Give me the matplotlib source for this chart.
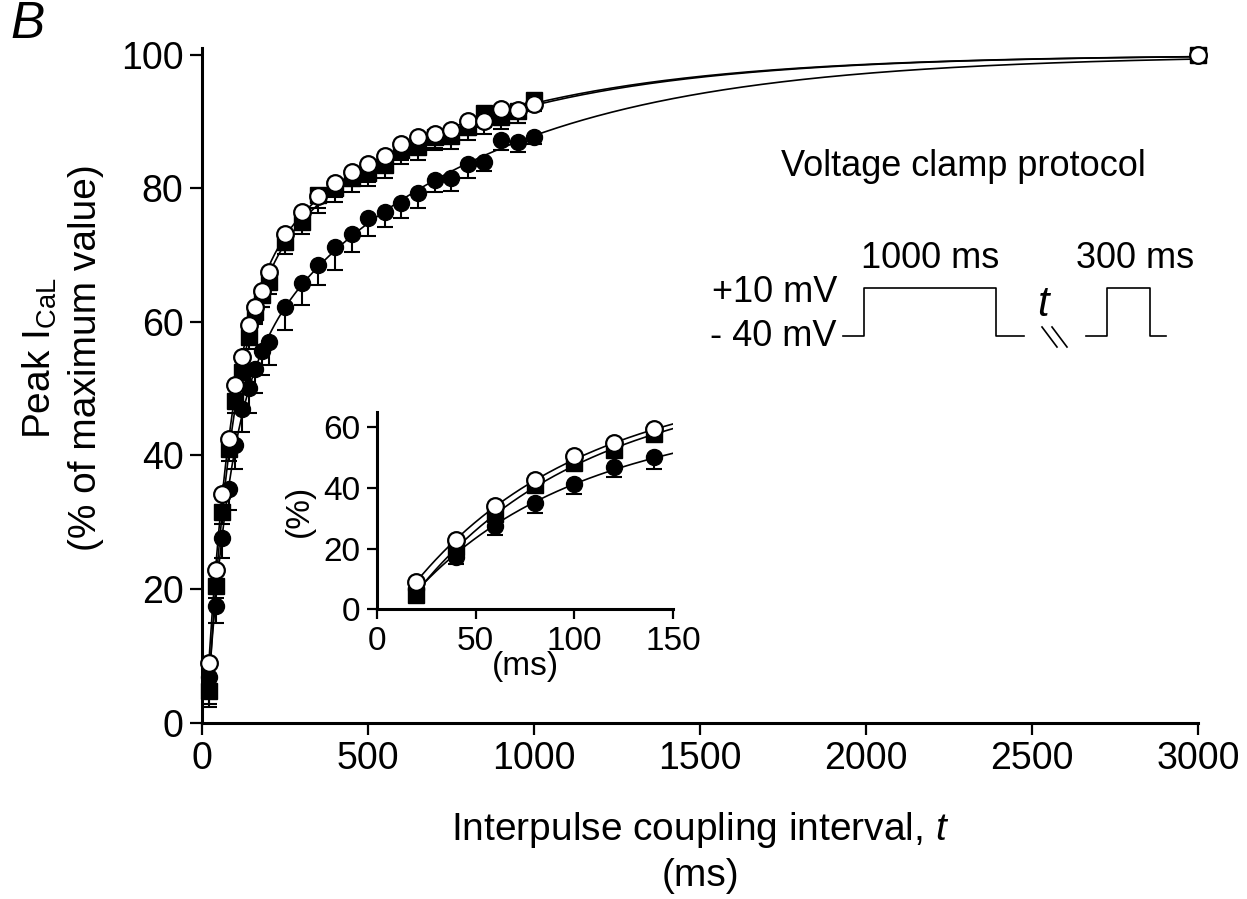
import numpy as np
import matplotlib
matplotlib.use("Agg")
import matplotlib.pyplot as plt

plt.rcParams['font.family'] = ['Liberation Sans', 'DejaVu Sans']
plt.rcParams['mathtext.fontset'] = 'custom'
plt.rcParams['mathtext.rm'] = 'Liberation Sans'
plt.rcParams['mathtext.it'] = 'Liberation Sans:italic'

# coupling intervals (ms)
t_ms = [20, 40, 60, 80, 100, 120, 140, 160, 180, 200, 250, 300, 350, 400, 450,
        500, 550, 600, 650, 700, 750, 800, 850, 900, 950, 1000, 3000]

# peak I_CaL, % of maximum
open_circ = [9.0, 22.9, 34.2, 42.5, 50.5, 54.8, 59.5, 62.3, 64.6, 67.4, 73.1, 76.5,
             78.8, 80.8, 82.4, 83.6, 84.8, 86.6, 87.7, 88.1, 88.8, 90.1, 90.1, 91.8,
             91.7, 92.6, 100.0]
open_err = [2.0, 2.0, 2.2, 2.2, 2.3, 2.3, 2.3, 2.3, 2.3, 2.3, 2.3, 2.4, 2.5, 2.1,
            2.0, 2.6, 2.2, 2.4, 2.2, 2.1, 2.0, 2.1, 2.0, 1.8, 1.9, 1.1, 0.0]

squares = [4.8, 20.5, 31.5, 41.0, 48.2, 52.5, 57.8, 61.5, 64.0, 66.0, 72.0, 75.0,
           79.0, 80.0, 81.5, 82.3, 83.5, 85.7, 86.2, 87.7, 87.9, 89.2, 91.2, 90.7,
           91.5, 93.2, 100.0]
square_err = [2.0, 1.8, 1.8, 1.8, 1.8, 1.8, 1.8, 1.8, 1.8, 1.8, 1.8, 1.8, 2.0, 2.0,
              2.0, 2.0, 2.0, 2.0, 2.0, 2.0, 2.0, 2.0, 2.0, 1.8, 1.8, 1.5, 0.0]

closed_circ = [6.8, 17.4, 27.6, 35.0, 41.5, 47.0, 50.1, 53.0, 55.6, 57.0, 62.3, 65.8,
               68.5, 71.2, 73.1, 75.5, 76.5, 77.8, 79.3, 81.2, 81.5, 83.6, 84.0, 87.3,
               87.0, 87.7, 100.0]
closed_err = [4.5, 2.5, 3.0, 3.1, 3.5, 3.5, 3.7, 3.6, 3.5, 3.5, 3.5, 3.3, 3.0, 3.5,
              2.6, 2.7, 2.3, 2.2, 2.2, 1.7, 1.9, 2.0, 1.4, 1.6, 1.5, 1.0, 0.0]


# two-exponential recovery fitted to the data (grid over taus, lstsq amplitudes)
def fit_recovery(t, y):
    t = np.asarray(t, float)
    r = 100.0 - np.asarray(y, float)
    best = None
    for tau1 in np.geomspace(10, 400, 70):
        for tau2 in np.geomspace(100, 3000, 70):
            if tau2 <= tau1:
                continue
            M = np.column_stack([np.exp(-t / tau1), np.exp(-t / tau2)])
            amp = np.linalg.lstsq(M, r, rcond=None)[0]
            sse = np.sum((M @ amp - r) ** 2)
            if best is None or sse < best[0]:
                best = (sse, tau1, tau2, amp)
    _, tau1, tau2, amp = best
    return lambda tt: 100.0 - amp[0] * np.exp(-tt / tau1) - amp[1] * np.exp(-tt / tau2)


series = [
    (closed_circ, closed_err, dict(marker='o', mfc='black', mec='black', ms=11.5)),
    (squares, square_err, dict(marker='s', mfc='black', mec='black', ms=11)),
    (open_circ, open_err, dict(marker='o', mfc='white', mec='black', ms=12, mew=1.6)),
]
fits = [fit_recovery(t_ms, s[0]) for s in series]


def style_axes(ax, size):
    for side in ['top', 'right']:
        ax.spines[side].set_visible(False)
    for side in ['left', 'bottom']:
        ax.spines[side].set_linewidth(2.2)
    ax.tick_params(width=1.6, length=8.5, labelsize=size, pad=5)


def draw(ax, tmax, tcurve):
    t = np.array(t_ms, float)
    keep = t <= tmax
    for k, (vals, err, st) in enumerate(series):
        v = np.array(vals)[keep]
        e = np.array(err)[keep]
        ax.errorbar(t[keep], v, yerr=[e, np.zeros_like(e)], fmt='none', ecolor='black',
                    elinewidth=1.5, capsize=6, capthick=1.5, zorder=3 + 2 * k, clip_on=False)
        ax.plot(t[keep], v, linestyle='none', zorder=4 + 2 * k, clip_on=False, **st)
    for f in fits:
        ax.plot(tcurve, f(tcurve), color='black', lw=1.2, zorder=2)


fig = plt.figure(figsize=(12.47, 8.99), dpi=100)

ax = fig.add_axes([0.1622, 0.1961, 0.7985, 0.7505])
draw(ax, 3000, np.linspace(20, 3000, 600))
ax.set_xlim(0, 3000)
ax.set_ylim(0, 101)
ax.set_xticks([0, 500, 1000, 1500, 2000, 2500, 3000])
ax.set_yticks([0, 20, 40, 60, 80, 100])
style_axes(ax, 27)

ins = fig.add_axes([0.3021, 0.3222, 0.2379, 0.2192])
ins.patch.set_alpha(0)
draw(ins, 140, np.linspace(20, 150, 200))
ins.set_xlim(0, 150)
ins.set_ylim(0, 65)
ins.set_xticks([0, 50, 100, 150])
ins.set_yticks([0, 20, 40, 60])
style_axes(ins, 24)
ins.tick_params(length=7)
ins.set_xlabel('(ms)', fontsize=24, labelpad=-4)
ins.set_ylabel('(%)', fontsize=24, labelpad=6)

# overlay in pixel coordinates for labels and protocol sketch
ov = fig.add_axes([0, 0, 1, 1])
ov.set_xlim(0, 1247)
ov.set_ylim(899, 0)
ov.axis('off')

ov.text(28, 24, 'B', fontsize=37, style='italic', ha='center', va='center')
ov.text(40, 358, r'Peak I$_{\rm CaL}$', fontsize=28, rotation=90, ha='center', va='center')
ov.text(86, 358, '(% of maximum value)', fontsize=28, rotation=90, ha='center', va='center')
ov.text(700, 852, 'Interpulse coupling interval, $\\it{t}$\n(ms)', fontsize=28,
        ha='center', va='center', linespacing=1.25)

ov.text(963, 167, 'Voltage clamp protocol', fontsize=26, ha='center', va='center')
ov.text(837, 292, '+10 mV', fontsize=26, ha='right', va='center')
ov.text(837, 337, '- 40 mV', fontsize=26, ha='right', va='center')
ov.text(930, 258, '1000 ms', fontsize=26, ha='center', va='center')
ov.text(1135, 258, '300 ms', fontsize=26, ha='center', va='center')
ov.text(1043, 305, 't', fontsize=30, style='italic', ha='center', va='center')

low, high = 336, 288
ov.plot([843, 864, 864, 996, 996, 1024], [low, low, high, high, low, low], color='black', lw=1.2)
ov.plot([1086, 1107, 1107, 1150, 1150, 1166], [low, low, high, high, low, low], color='black', lw=1.2)
ov.plot([1042, 1057], [327, 347], color='black', lw=1.2)
ov.plot([1052, 1067], [327, 347], color='black', lw=1.2)

fig.savefig('out.png', dpi=100)
